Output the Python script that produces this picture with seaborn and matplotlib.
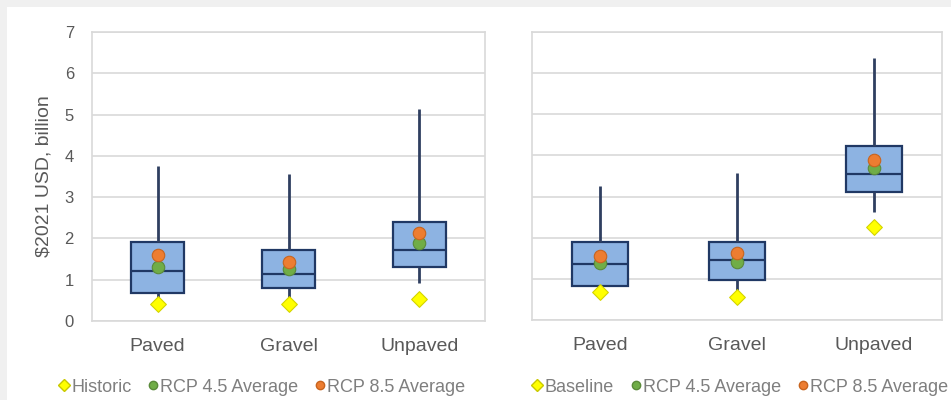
import matplotlib
matplotlib.use("Agg")
import matplotlib.pyplot as plt
from matplotlib.lines import Line2D
from matplotlib.patches import Rectangle
import numpy as np
import pandas as pd
import seaborn as sns

categories = ["Paved", "Gravel", "Unpaved"]

# left panel: box summary (whisker low, q1, median, q3, whisker high)
hist_lo = [0.45, 0.50, 0.91]
hist_q1 = [0.68, 0.80, 1.31]
hist_med = [1.21, 1.13, 1.73]
hist_q3 = [1.91, 1.72, 2.39]
hist_hi = [3.75, 3.56, 5.13]
historic = [0.41, 0.41, 0.53]
rcp45_left = [1.31, 1.25, 1.88]
rcp85_left = [1.60, 1.43, 2.12]

# right panel
fut_lo = [0.75, 0.65, 2.62]
fut_q1 = [0.83, 0.97, 3.12]
fut_med = [1.36, 1.46, 3.56]
fut_q3 = [1.89, 1.89, 4.24]
fut_hi = [3.26, 3.57, 6.38]
baseline = [0.69, 0.57, 2.26]
rcp45_right = [1.38, 1.42, 3.70]
rcp85_right = [1.55, 1.63, 3.89]

yticks = [0, 1, 2, 3, 4, 5, 6, 7]

sns.set_theme(style="white")
plt.rcParams["font.family"] = ["Liberation Sans", "DejaVu Sans"]

text_grey = "#595959"
grid_grey = "#d9d9d9"
box_fill = "#8db3e2"
box_edge = "#203864"
yellow = "#ffff00"
green = "#70ad47"
orange = "#ed7d31"


def summary_frame(lo, q1, med, q3, hi):
    rows = []
    for i, c in enumerate(categories):
        for v in (lo[i], q1[i], med[i], q3[i], hi[i]):
            rows.append({"cat": c, "val": v})
    return pd.DataFrame(rows)


fig = plt.figure(figsize=(9.51, 4.0), dpi=100)
fig.patch.set_facecolor("white")
# grey frame strips along top and left like the screenshot
fig.patches.append(Rectangle((0, 393 / 400), 1, 7 / 400, transform=fig.transFigure,
                             facecolor="#f0f0f0", edgecolor="none", zorder=-10))
fig.patches.append(Rectangle((0, 0), 7 / 951, 1, transform=fig.transFigure,
                             facecolor="#f0f0f0", edgecolor="none", zorder=-10))

ax1 = fig.add_axes([92 / 951, 79 / 400, 393 / 951, 289 / 400])
ax2 = fig.add_axes([532 / 951, 80 / 400, 410 / 951, 288 / 400])

panels = [
    (ax1, summary_frame(hist_lo, hist_q1, hist_med, hist_q3, hist_hi), historic, rcp45_left, rcp85_left),
    (ax2, summary_frame(fut_lo, fut_q1, fut_med, fut_q3, fut_hi), baseline, rcp45_right, rcp85_right),
]

for ax, df, ref, r45, r85 in panels:
    ax.set_facecolor("white")
    ax.set_axisbelow(True)
    ax.yaxis.grid(True, color=grid_grey, linewidth=1.2)
    sns.boxplot(data=df, x="cat", y="val", ax=ax, whis=(0, 100), width=0.41,
                showcaps=False, color=box_fill, linecolor=box_edge, linewidth=1.6,
                boxprops={"facecolor": box_fill, "edgecolor": box_edge},
                whiskerprops={"color": "#2f3f60", "linewidth": 2},
                medianprops={"color": box_edge, "linewidth": 1.6},
                zorder=3)
    sns.stripplot(x=categories, y=ref, ax=ax, jitter=False, marker="D", size=8,
                  color=yellow, edgecolor="#d4d400", linewidth=0.8, zorder=6)
    sns.stripplot(x=categories, y=r45, ax=ax, jitter=False, marker="o", size=9,
                  color=green, edgecolor="#5a8a3a", linewidth=0.8, zorder=6)
    sns.stripplot(x=categories, y=r85, ax=ax, jitter=False, marker="o", size=9,
                  color=orange, edgecolor="#c8641e", linewidth=0.8, zorder=7)
    ax.set_ylim(0, 7)
    ax.set_xlim(-0.5, 2.5)
    ax.set_yticks(yticks)
    ax.set_xlabel("")
    ax.set_ylabel("")
    for s in ax.spines.values():
        s.set_color(grid_grey)
        s.set_linewidth(1.2)
    ax.tick_params(axis="x", length=0, pad=12, labelsize=14, labelcolor=text_grey)
    ax.tick_params(axis="y", length=0, pad=13, labelsize=12, labelcolor=text_grey)

ax2.set_yticklabels([])
ax1.set_ylabel("\\$2021 USD, billion", fontsize=14, color=text_grey, labelpad=9)


def legend_handles(first):
    return [
        Line2D([], [], linestyle="none", marker="D", markersize=6, color=yellow,
               markeredgecolor="#c8c800", label=first),
        Line2D([], [], linestyle="none", marker="o", markersize=6, color=green,
               markeredgecolor="#5a8a3a", label="RCP 4.5 Average"),
        Line2D([], [], linestyle="none", marker="o", markersize=6, color=orange,
               markeredgecolor="#c8641e", label="RCP 8.5 Average"),
    ]


for handles, cx in [(legend_handles("Historic"), 262 / 951), (legend_handles("Baseline"), 740 / 951)]:
    leg = fig.legend(handles=handles, loc="center", bbox_to_anchor=(cx, 13 / 400), ncol=3,
                     frameon=False, fontsize=13, handlelength=0.6, handletextpad=0.1,
                     columnspacing=0.9, borderpad=0)
    for t in leg.get_texts():
        t.set_color("#7f7f7f")

fig.savefig("out.png", dpi=100)
